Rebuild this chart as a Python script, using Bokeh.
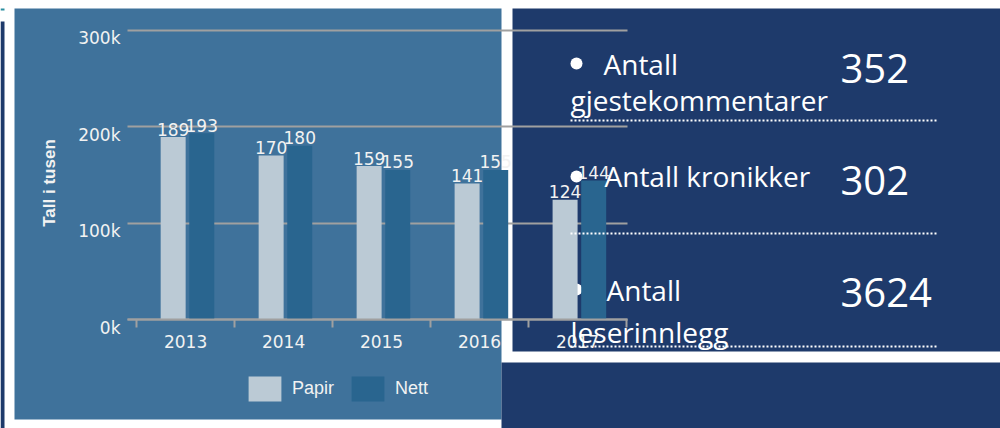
from bokeh.plotting import figure
from bokeh.models import (Range1d, FixedTicker, PrintfTickFormatter, BoxAnnotation, Label,
                          Arrow, Legend, LegendItem, ColumnDataSource, LinearAxis)
from bokeh.transform import dodge
from bokeh.core.properties import value
from bokeh.embed import file_html
from bokeh.resources import INLINE

# ---- data ----
years = ["2013", "2014", "2015", "2016", "2017"]
papir = [189, 170, 159, 141, 124]   # tall i tusen
nett = [193, 180, 155, 155, 144]
y_ticks = [0, 100, 200, 300]

stat_first = ["Antall", "Antall kronikker", "Antall"]
stat_second = ["gjestekommentarer", "", "leserinnlegg"]
stat_values = ["352", "302", "3624"]

# ---- colours ----
CHART_BG = "#3f729b"
NAVY = "#1e3a6b"
TEAL = "#2a8ea0"
PAPIR_C = "#bbcad5"
NETT_C = "#29658f"
GRID_C = "#a0a0a0"
TXT = "#f2f2f2"

W, H = 1000, 428
# chart scale: plot area spans page x 127..627, y 28..319
X0, X1 = -0.093, 5.01
PX_PER_X = 500 / (X1 - X0)
PX_PER_Y = 0.965
x_start = X0 - 127 / PX_PER_X
y_start = -(H - 319) / PX_PER_Y
y_end = y_start + H / PX_PER_Y

centers = [i + 0.5 for i in range(len(years))]
src = ColumnDataSource(dict(x=centers, papir=papir, nett=nett,
                            papir_lbl=[str(v) for v in papir],
                            nett_lbl=[str(v) for v in nett]))

p = figure(width=W, height=H,
           x_range=Range1d(x_start, x_start + W / PX_PER_X),
           y_range=Range1d(y_start, y_end),
           output_backend="svg", toolbar_location=None,
           min_border=0, min_border_left=0, min_border_right=0,
           min_border_top=0, min_border_bottom=0,
           background_fill_color="white", border_fill_color="white", outline_line_color=None)

def sx(page_x):
    return page_x

def sy(page_y):
    return H - page_y

# background panels (screen units)
for l, r, t, b, c in [(14, 501, 8, 419, CHART_BG),
                      (512, 1010, 8, 351, NAVY),
                      (501, 1010, 362, 440, NAVY),
                      (0, 4, 21, 440, NAVY),
                      (0, 4, 8, 10, TEAL)]:
    p.add_layout(BoxAnnotation(left=sx(l), right=sx(r), top=sy(t), bottom=sy(b),
                               left_units="screen", right_units="screen",
                               top_units="screen", bottom_units="screen",
                               fill_color=c, fill_alpha=1, line_color=None, level="image"))

# bullets of the info panel (pixel ranges); label range sits tick labels just below grid lines
LBL_SHIFT = 8 / PX_PER_Y
p.extra_x_ranges = {"px": Range1d(0, W)}
p.extra_y_ranges = {"px": Range1d(0, H),
                    "lbl": Range1d(y_start + LBL_SHIFT, y_end + LBL_SHIFT)}
p.scatter(x=[sx(576)] * 3, y=[sy(63), sy(176), sy(289)], size=12, marker="circle",
          fill_color="white", line_color=None, x_range_name="px", y_range_name="px",
          level="underlay")

r1 = p.vbar(x=dodge("x", -0.127, range=p.x_range), top="papir", width=0.255, source=src,
            fill_color=PAPIR_C, line_color=None)
r2 = p.vbar(x=dodge("x", 0.165, range=p.x_range), top="nett", width=0.255, source=src,
            fill_color=NETT_C, line_color=None)

lbl_kw = dict(text_align="center", text_baseline="alphabetic", y_offset=-8,
              text_font=value("DejaVu Sans"), text_font_size="17px", text_color=TXT)
p.text(x=dodge("x", -0.127, range=p.x_range), y="papir", text="papir_lbl", source=src, **lbl_kw)
p.text(x=dodge("x", 0.165, range=p.x_range), y="nett", text="nett_lbl", source=src, **lbl_kw)

p.xgrid.visible = False
p.ygrid.visible = False

# x axis
xa = p.xaxis[0]
xa.fixed_location = 0
xa.bounds = (X0, X1)
xa.ticker = FixedTicker(ticks=centers, minor_ticks=list(range(len(years) + 1)))
xa.major_label_overrides = {c: y for c, y in zip(centers, years)}
xa.major_tick_line_color = None
xa.major_tick_out = 0
xa.major_tick_in = 0
xa.minor_tick_line_color = GRID_C
xa.minor_tick_line_width = 2
xa.minor_tick_out = 8
xa.minor_tick_in = 0
xa.axis_line_color = GRID_C
xa.axis_line_width = 2
xa.major_label_text_font = "DejaVu Sans"
xa.major_label_text_font_size = "17px"
xa.major_label_text_color = TXT
xa.major_label_standoff = 7

# y axis: its inward ticks act as the horizontal grid lines
ya = p.yaxis[0]
ya.fixed_location = X0
ya.bounds = (0, 300)
ya.level = "underlay"
ya.ticker = FixedTicker(ticks=y_ticks)
ya.axis_line_color = None
ya.major_tick_line_color = GRID_C
ya.major_tick_line_width = 2
ya.major_tick_out = 0
ya.major_tick_in = 500
ya.minor_tick_line_color = None
ya.major_label_text_alpha = 0

# y axis carrying the tick labels and title
yl = LinearAxis(y_range_name="lbl", fixed_location=X0, bounds=(0, 300),
                ticker=FixedTicker(ticks=y_ticks), formatter=PrintfTickFormatter(format="%dk"),
                axis_line_color=None, major_tick_line_color=None, minor_tick_line_color=None,
                major_tick_out=0, major_tick_in=0, minor_tick_out=0, minor_tick_in=0,
                major_label_standoff=7, major_label_text_font="DejaVu Sans",
                major_label_text_font_size="17px", major_label_text_color=TXT,
                axis_label="Tall i tusen", axis_label_text_font="Liberation Sans",
                axis_label_text_font_style="bold", axis_label_text_font_size="17px",
                axis_label_text_color=TXT, axis_label_standoff=16)
p.add_layout(yl, "left")

# legend: area glyphs are drawn at 80% of the glyph box
legend = Legend(items=[LegendItem(label="Papir", renderers=[r1]),
                       LegendItem(label="Nett", renderers=[r2])],
                location=(sx(244), sy(404)), orientation="horizontal",
                glyph_width=41, glyph_height=31, label_standoff=7, spacing=13,
                padding=0, margin=0, border_line_color=None, background_fill_alpha=0,
                label_text_font="Liberation Sans", label_text_font_size="18px",
                label_text_color=TXT)
p.add_layout(legend)

# info panel texts (screen units)
first_pos = [(603, 63), (604, 175), (606, 289)]
second_pos = [(570, 99), None, (570, 331)]
value_pos = [(840, 68), (840, 180), (840, 292)]
line_y = [120, 233, 346]
font = "Open Sans"
for i in range(3):
    x, y = first_pos[i]
    p.add_layout(Label(x=sx(x), y=sy(y), x_units="screen", y_units="screen", text=stat_first[i],
                       text_baseline="alphabetic",
                       text_font=font, text_font_size="28px", text_color="white"))
    if second_pos[i] is not None:
        x, y = second_pos[i]
        p.add_layout(Label(x=sx(x), y=sy(y), x_units="screen", y_units="screen",
                           text=stat_second[i], text_baseline="alphabetic",
                           text_font=font, text_font_size="28px", text_color="white"))
    x, y = value_pos[i]
    p.add_layout(Label(x=sx(x), y=sy(y), x_units="screen", y_units="screen", text=stat_values[i],
                       text_baseline="alphabetic",
                       text_font=font, text_font_size="40px", text_color="white"))
    p.add_layout(Arrow(end=None, x_start=sx(570), y_start=sy(line_y[i]),
                       x_end=sx(938), y_end=sy(line_y[i]),
                       start_units="screen", end_units="screen",
                       line_color="white", line_width=2, line_dash="2 2"))

open("out.html", "w").write(file_html(p, INLINE))
